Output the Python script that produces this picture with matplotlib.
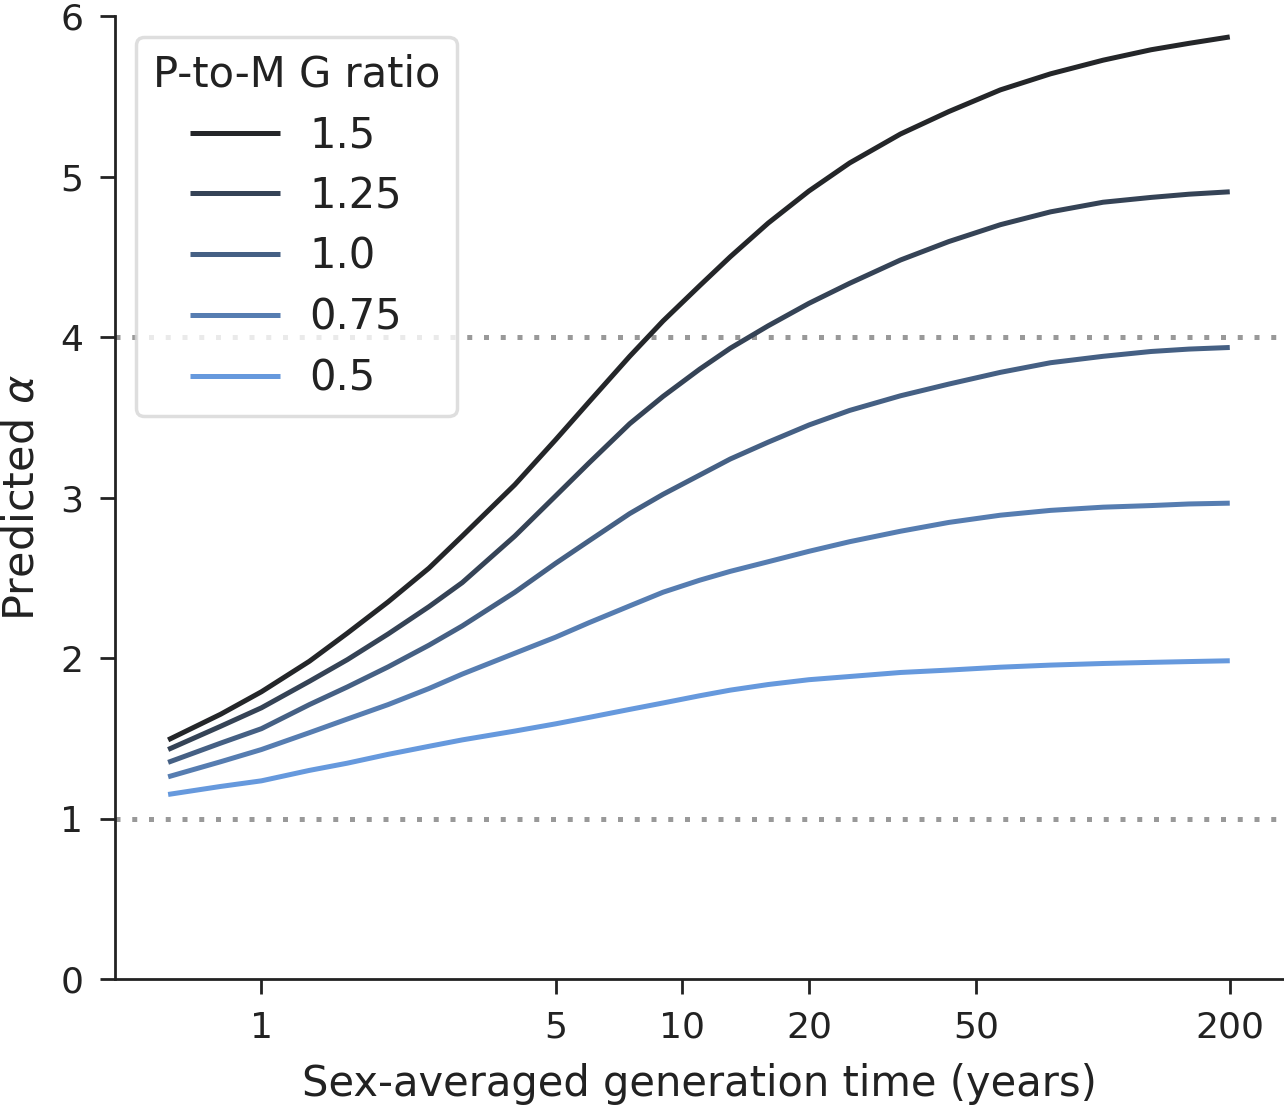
import matplotlib
matplotlib.use("Agg")
import matplotlib.pyplot as plt
import seaborn as sns
from matplotlib.ticker import FixedLocator, FixedFormatter, NullLocator

# ---- data ----
gen_time = [0.6, 0.8, 1, 1.3, 1.6, 2, 2.5, 3, 4, 5, 6, 7.5, 9, 11, 13, 16, 20,
            25, 33, 43, 57, 75, 100, 130, 160, 200]
ratios = ["1.5", "1.25", "1.0", "0.75", "0.5"]
alpha_15 = [1.49, 1.65, 1.79, 1.98, 2.155, 2.35, 2.56, 2.76, 3.08, 3.36, 3.595, 3.88, 4.10,
            4.32, 4.50, 4.71, 4.91, 5.085, 5.265, 5.405, 5.54, 5.64, 5.725, 5.79, 5.83, 5.87]
alpha_125 = [1.43, 1.575, 1.69, 1.855, 1.99, 2.15, 2.32, 2.47, 2.76, 3.01, 3.215, 3.46, 3.63,
             3.80, 3.93, 4.07, 4.21, 4.335, 4.48, 4.595, 4.70, 4.78, 4.84, 4.87, 4.89, 4.905]
alpha_10 = [1.35, 1.47, 1.56, 1.71, 1.82, 1.945, 2.08, 2.20, 2.41, 2.59, 2.73, 2.90, 3.02,
            3.14, 3.24, 3.345, 3.452, 3.543, 3.634, 3.707, 3.78, 3.84, 3.88, 3.91, 3.925, 3.935]
alpha_075 = [1.26, 1.354, 1.43, 1.535, 1.62, 1.71, 1.81, 1.90, 2.03, 2.13, 2.22, 2.325, 2.41,
             2.485, 2.54, 2.60, 2.665, 2.725, 2.79, 2.845, 2.89, 2.92, 2.94, 2.95, 2.96, 2.965]
alpha_05 = [1.15, 1.20, 1.235, 1.30, 1.345, 1.40, 1.45, 1.49, 1.545, 1.59, 1.63, 1.68, 1.72,
            1.765, 1.80, 1.835, 1.865, 1.885, 1.91, 1.925, 1.943, 1.956, 1.966, 1.973, 1.978, 1.983]
series = [alpha_15, alpha_125, alpha_10, alpha_075, alpha_05]
ref_lines = [1, 4]
x_ticks = [1, 5, 10, 20, 50, 200]
x_ticklabels = ["1", "5", "10", "20", "50", "200"]
y_ticks = [0, 1, 2, 3, 4, 5, 6]

sns.set_theme(style="ticks")
plt.rcParams["font.family"] = ["DejaVu Sans"]
for k in ["axes.edgecolor", "xtick.color", "ytick.color", "text.color", "axes.labelcolor"]:
    plt.rcParams[k] = "#222222"

colors = sns.dark_palette("#69d", len(ratios))

fig = plt.figure(figsize=(12.84, 11.07), dpi=100)
ax = fig.add_axes([0.0896, 0.1156, 0.9095, 0.8699])

for yv in ref_lines:
    ax.axhline(yv, color="#999999", lw=3.6, linestyle=(0, (1.0, 2.35)), zorder=1)

for lab, ys, c in zip(ratios, series, colors):
    ax.plot(gen_time, ys, color=c, lw=3.6, label=lab, zorder=2, solid_capstyle="butt")

ax.set_xscale("log")
ax.set_ylim(0, 6)
ax.xaxis.set_major_locator(FixedLocator(x_ticks))
ax.xaxis.set_major_formatter(FixedFormatter(x_ticklabels))
ax.xaxis.set_minor_locator(NullLocator())
ax.set_yticks(y_ticks)

ax.tick_params(axis="both", which="major", labelsize=26, length=10.8, width=2.0, pad=12)
for s in ["left", "bottom"]:
    ax.spines[s].set_linewidth(2.0)
sns.despine(ax=ax)

ax.set_xlabel("Sex-averaged generation time (years)", fontsize=30, labelpad=13)
ax.set_ylabel(r"Predicted $\alpha$", fontsize=31, labelpad=13)

leg = ax.legend(title="P-to-M G ratio", loc="upper left", fontsize=30, title_fontsize=30,
                handlelength=2.16, handletextpad=0.7, labelspacing=0.45,
                borderaxespad=0.5, borderpad=0.4, frameon=True)
leg.get_frame().set_linewidth(2.5)
leg.get_frame().set_edgecolor("#d6d6d6")
leg.set_zorder(5)

fig.savefig("out.png", dpi=100)
